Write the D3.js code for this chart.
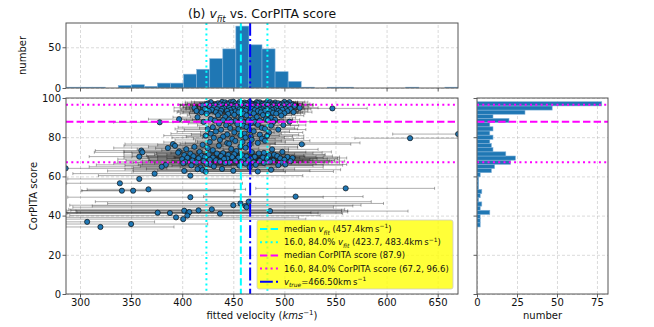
<!DOCTYPE html>
<html>
<head>
<meta charset="utf-8">
<script src="https://cdn.jsdelivr.net/npm/d3@7"></script>
<style>
body { margin: 0; background: #fff; }
svg { font-family: "DejaVu Sans", sans-serif; }
</style>
</head>
<body>
<svg id="chart" width="654" height="327"></svg>
<script>
// ---- data ----
var vTicks = [300, 350, 400, 450, 500, 550, 600, 650];
var scoreTicks = [0, 20, 40, 60, 80, 100];
var topCountTicks = [0, 50];
var sideCountTicks = [0, 25, 50, 75];

// histogram of fitted velocity, 30 bins between data min and max
var vRange = [286.3, 669.9];
var vCounts = [1,1,1,0,3,4,2,6,6,17,23,36,48,76,53,48,20,8,1,0,1,1,0,0,0,0,1,0,0,1];
// histogram of CorPITA score, 30 bins, low -> high
var scoreRange = [34.2, 98.1];
var scoreCounts = [2,2,2,8,2,3,1,2,3,1,1,1,2,9,11,21,24,18,10,9,8,10,8,10,8,20,10,30,47,78];

var vMedian = 457.4, vPct = [423.7, 483.4], vTrue = 466.5;
var sMedian = 87.9, sPct = [67.2, 96.6];

// each fit: [velocity, score, minus error, plus error]
var fits = [
  [428,97.9,25,30],[439,98.0,30,35],[442,97.8,20,28],[447,97.9,35,40],[450,98.1,22,30],[456,97.9,28,25],[461,97.7,33,38],[466,98.0,25,30],[473,97.9,30,27],[476,97.8,36,33],[483,98.0,28,30],[486,97.9,40,25],[491,97.7,30,22],[500,98.0,35,20],[505,97.9,25,18],
  [425,97.2,22,35],[435,97.3,30,30],[444,97.1,26,42],[452,97.2,35,28],[458,97.4,24,36],[463,97.2,30,30],[469,97.0,38,26],[474,97.3,27,34],[479,97.2,32,28],[488,97.1,40,25],[494,97.3,30,24],[498,97.2,36,20],[503,97.0,28,22],
  [424,96.7,28,40],[432,96.6,34,30],[437,96.8,25,38],[445,96.7,45,30],[449,96.5,30,40],[455,96.7,26,32],[460,96.8,38,28],[464,96.6,30,36],[468,96.7,34,30],[472,96.5,28,40],[478,96.8,36,26],[481,96.7,30,32],[485,96.6,42,28],[490,96.7,33,25],[496,96.5,38,22],[502,96.7,30,26],[508,96.6,35,20],
  [420,96.2,22,38],[430,96.1,32,34],[440,96.3,28,30],[448,96.2,40,36],[453,96.0,30,28],[459,96.2,35,40],[462,96.3,28,30],[467,96.1,32,34],[471,96.2,40,28],[477,96.0,30,36],[484,96.2,36,30],[489,96.3,28,26],[493,96.1,34,22],[499,96.2,40,24],[510,96.0,30,18],
  [427,95.6,26,34],[436,95.5,32,30],[443,95.7,28,40],[451,95.6,36,30],[457,95.4,30,34],[465,95.6,40,28],[470,95.7,30,32],[475,95.5,34,30],[482,95.6,38,26],[487,95.4,30,28],[495,95.6,36,24],[504,95.5,32,20],
  [412,95.0,20,40],[431,95.1,30,36],[441,94.9,34,30],[446,95.0,28,38],[454,95.2,36,32],[461,95.0,30,30],[466,94.8,40,34],[473,95.0,32,28],[480,95.1,36,30],[485,94.9,30,26],[492,95.0,40,24],[497,95.1,34,22],[515,95.0,30,18],[547,94.7,35,34],
  [422,94.4,24,36],[434,94.3,30,32],[439,94.5,36,30],[450,94.4,30,38],[456,94.2,40,30],[463,94.4,32,34],[468,94.5,28,30],[478,94.3,38,28],[483,94.4,32,26],[490,94.2,36,24],[501,94.4,30,22],[506,94.3,28,20],
  [429,94.0,30,34],[447,93.9,36,30],[459,94.0,30,36],[471,93.8,40,28],[476,94.0,30,30],[488,93.9,34,24],[498,94.0,30,22],
  [414,93.4,22,38],[426,93.3,30,34],[438,93.5,28,30],[444,93.4,36,38],[452,93.2,30,30],[458,93.4,40,34],[462,93.5,30,28],[474,93.3,34,30],[481,93.4,30,26],[486,93.2,38,28],[494,93.4,32,22],[503,93.3,30,20],
  [419,92.7,24,36],[433,92.8,32,32],[448,92.6,36,30],[455,92.7,30,36],[467,92.9,38,30],[477,92.7,30,28],[489,92.5,34,24],[496,92.7,30,22],[509,92.8,28,18],
  [424,92.0,26,34],[437,92.2,30,30],[445,91.9,38,34],[460,92.0,30,30],[470,92.1,36,28],[484,91.9,30,26],[492,92.0,34,24],[500,92.2,28,20],
  [435,91.2,30,34],[451,91.4,36,30],[463,91.1,30,32],[479,91.3,34,28],[497,91.0,30,22],
  [415,90.2,24,38],[442,90.4,34,30],[457,90.0,30,34],[473,90.3,36,28],[487,89.9,30,24],
  [397,89.2,30,45],[428,89.3,32,36],[446,89.0,36,30],[458,89.4,30,34],[469,89.1,38,30],[482,89.2,30,26],[491,88.9,34,24],
  [432,88.5,30,34],[440,88.7,36,30],[452,88.3,30,36],[465,88.6,38,30],[476,88.4,30,28],[484,88.7,34,24],
  [378,87.6,45,40],[421,87.8,30,36],[448,87.9,34,30],[460,87.6,30,34],[471,87.8,36,28],[489,87.7,30,24],[505,87.9,28,20],
  [436,86.9,30,34],[454,86.6,28,30],[467,87.1,32,28],
  [443,86.1,28,33],[460,85.8,30,30],[474,86.3,27,32],[487,85.9,33,27],[499,86.2,28,22],
  [430,85.1,34,36],[447,84.7,30,33],[463,85.2,35,30],[478,84.8,30,32],
  [425,84.2,32,38],[438,83.8,36,33],[455,84.1,30,35],[466,83.6,33,30],[481,84.3,35,32],[494,83.9,30,27],
  [433,82.9,38,36],[451,82.5,33,39],[470,83.0,36,35],[485,82.4,32,33],
  [428,81.8,39,38],[444,81.4,35,41],[461,81.9,38,36],[476,81.3,33,38],[670,81.6,64,40],
  [423,80.8,41,38],[440,80.3,36,42],[457,80.9,39,38],[467,80.4,35,41],[483,80.7,38,36],
  [431,79.7,41,39],[449,79.2,38,42],[462,79.8,42,38],[478,79.3,36,41],[623,79.5,54,60],
  [437,78.6,44,41],[452,78.1,39,45],[468,78.7,42,41],[481,78.2,38,44],
  [427,77.5,45,42],[444,77.0,41,47],[459,77.6,44,42],[474,77.1,39,100],
  [391,76.5,47,53],[420,76.1,44,50],[446,76.7,48,45],[466,76.2,45,54],[517,76.4,42,48],
  [393,75.6,50,47],[412,75.1,45,53],[436,75.7,48,50],[457,75.2,44,56],
  [386,74.5,53,51],[404,73.9,48,54],[425,74.4,51,50],[448,74.0,47,56],[462,74.6,53,51],[488,73.8,48,45],
  [360,73.2,45,60],[397,72.8,54,53],[430,73.4,50,56],[453,72.9,53,51],
  [361,72.3,47,56],[396,72.1,53,59],[417,72.5,56,54],[440,71.9,51,60],[468,72.4,54,53],[480,72.0,50,57],[498,72.5,53,48],
  [408,71.6,57,56],[426,71.2,53,60],[434,71.7,59,54],[451,71.3,54,59],[475,71.8,56,53],[490,71.1,51,50],
  [402,70.9,59,57],[419,70.6,54,62],[445,71.0,60,56],[459,70.7,56,60],[485,70.9,53,54],
  [358,70.1,49,60],[411,70.3,60,57],[422,69.9,56,63],[438,70.4,62,59],[449,69.8,57,62],[463,70.2,60,57],[471,70.0,56,60],[493,70.4,59,54],[503,69.9,54,51],
  [405,69.5,62,60],[416,69.2,57,65],[430,69.6,63,59],[444,69.1,59,63],[455,69.5,62,60],[467,69.0,57,65],[479,69.6,63,59],[496,69.2,59,56],[508,69.4,56,53],
  [400,68.8,63,62],[427,68.5,59,66],[441,68.9,65,60],[460,68.6,60,65],[483,68.9,63,59],[500,68.5,57,54],
  [410,68.1,65,63],[421,67.8,60,68],[433,68.2,66,62],[452,67.9,62,66],[465,68.3,65,63],[476,67.9,60,68],[489,68.1,63,60],[506,67.8,59,53],
  [403,67.4,66,65],[414,67.1,62,69],[437,67.5,68,63],[446,67.0,63,68],[458,67.4,66,65],[470,67.2,62,69],[486,67.5,65,60],[497,67.0,60,57],
  [401,66.7,68,66],[424,66.4,63,71],[442,66.8,69,65],[462,66.5,65,69],[480,66.9,68,63],
  [384,65.9,68,69],[409,65.6,65,72],[428,66.0,71,68],[456,65.5,66,72],[472,65.9,69,66],[494,65.7,65,63],[501,66.1,68,60],
  [380,64.9,71,68],[418,64.6,66,74],[431,65.1,72,69],[466,64.7,68,72],
  [286,64.1,10,99],[415,63.7,71,75],[420,63.3,68,79],[439,63.8,74,71],[487,63.4,69,68],
  [402,62.8,75,72],[423,62.4,71,78],[450,62.9,74,75],[474,62.5,69,74],
  [373,61.4,80,95],[408,60.4,90,110],
  [358,58.7,70,100],
  [339,56.5,52,120],
  [560,53.9,88,87],
  [341,52.7,40,110],[352,52.7,50,100],[367,53.4,60,95],
  [408,49.4,120,130],[511,49.7,90,66],
  [465,47.1,150,120],
  [450,45.3,160,125],[457,46.2,130,140],[462,44.9,150,105],
  [463,44.3,170,85],[429,43.2,140,130],
  [376,41.5,90,150],[388,41.3,100,145],[402,42.5,115,160],[406,41.5,120,150],[407,41.8,110,155],[416,42.7,125,140],[486,42.3,190,135],[437,41.0,150,120],
  [394,39.1,108,120],[405,40.0,115,130],
  [401,38.2,115,120],[307,36.8,21,66],
  [320,34.2,34,72],[350,35.7,64,75]
];

// ---- layout ----
var mainBox = {l: 66, r: 458, t: 98, b: 294},
    topBox = {l: 66, r: 458, t: 23, b: 88},
    sideBox = {l: 477, r: 608, t: 98, b: 294};

var blue = "#1f77b4";
var svg = d3.select("#chart");

var x = d3.scaleLinear().domain(vRange).range([mainBox.l, mainBox.r]);
var y = d3.scaleLinear().domain([0, 100]).range([mainBox.b, mainBox.t]);
var yTop = d3.scaleLinear().domain([0, 79.8]).range([topBox.b, topBox.t]);
var xSide = d3.scaleLinear().domain([0, 81.9]).range([sideBox.l, sideBox.r]);

var defs = svg.append("defs");
[["clipMain", mainBox], ["clipTop", topBox], ["clipSide", sideBox]].forEach(function(c) {
  defs.append("clipPath").attr("id", c[0]).append("rect")
    .attr("x", c[1].l).attr("y", c[1].t)
    .attr("width", c[1].r - c[1].l).attr("height", c[1].b - c[1].t);
});

function styleAxis(g) {
  g.select(".domain").remove();
  g.selectAll(".tick line").attr("stroke", "#333").attr("stroke-width", 0.8);
  g.selectAll(".tick text").attr("fill", "#111").attr("font-size", 10)
    .attr("font-family", "DejaVu Sans, sans-serif");
}
function styleGrid(g) {
  g.select(".domain").remove();
  g.selectAll(".tick line").attr("stroke", "#b0b0b0").attr("stroke-width", 0.8)
    .attr("stroke-dasharray", "3,2").attr("opacity", 0.6);
  g.selectAll(".tick text").remove();
}

// ---- gridlines ----
svg.append("g").attr("transform", "translate(0," + mainBox.b + ")")
  .call(d3.axisBottom(x).tickValues(vTicks).tickSize(-(mainBox.b - mainBox.t))).call(styleGrid);
svg.append("g").attr("transform", "translate(" + mainBox.l + ",0)")
  .call(d3.axisLeft(y).tickValues(scoreTicks).tickSize(-(mainBox.r - mainBox.l))).call(styleGrid);
svg.append("g").attr("transform", "translate(0," + topBox.b + ")")
  .call(d3.axisBottom(x).tickValues(vTicks).tickSize(-(topBox.b - topBox.t))).call(styleGrid);
svg.append("g").attr("transform", "translate(" + topBox.l + ",0)")
  .call(d3.axisLeft(yTop).tickValues(topCountTicks).tickSize(-(topBox.r - topBox.l))).call(styleGrid);
svg.append("g").attr("transform", "translate(0," + sideBox.b + ")")
  .call(d3.axisBottom(xSide).tickValues(sideCountTicks).tickSize(-(sideBox.b - sideBox.t))).call(styleGrid);
svg.append("g").attr("transform", "translate(" + sideBox.l + ",0)")
  .call(d3.axisLeft(y).tickValues(scoreTicks).tickSize(-(sideBox.r - sideBox.l))).call(styleGrid);

// ---- top histogram ----
var vStep = (vRange[1] - vRange[0]) / vCounts.length;
svg.append("g").attr("clip-path", "url(#clipTop)")
  .selectAll("rect").data(vCounts).join("rect")
  .attr("x", function(d, i) { return x(vRange[0] + i * vStep); })
  .attr("width", function(d, i) { return x(vRange[0] + (i + 1) * vStep) - x(vRange[0] + i * vStep); })
  .attr("y", function(d) { return yTop(d); })
  .attr("height", function(d) { return yTop(0) - yTop(d); })
  .attr("fill", blue).attr("stroke", "#7fb0d8").attr("stroke-width", 0.6);

// ---- side histogram ----
var sStep = (scoreRange[1] - scoreRange[0]) / scoreCounts.length;
svg.append("g").attr("clip-path", "url(#clipSide)")
  .selectAll("rect").data(scoreCounts).join("rect")
  .attr("x", xSide(0))
  .attr("y", function(d, i) { return y(scoreRange[0] + (i + 1) * sStep); })
  .attr("height", function(d, i) { return y(scoreRange[0] + i * sStep) - y(scoreRange[0] + (i + 1) * sStep); })
  .attr("width", function(d) { return xSide(d) - xSide(0); })
  .attr("fill", blue).attr("stroke", "#7fb0d8").attr("stroke-width", 0.6);

// ---- scatter with error bars ----
var plot = svg.append("g").attr("clip-path", "url(#clipMain)");
var eb = plot.append("g").attr("stroke", "#000").attr("stroke-opacity", 0.32).attr("stroke-width", 1);
fits.forEach(function(d) {
  var x0 = x(d[0] - d[2]), x1 = x(d[0] + d[3]), yy = y(d[1]);
  eb.append("line").attr("x1", x0).attr("x2", x1).attr("y1", yy).attr("y2", yy);
  eb.append("line").attr("x1", x0).attr("x2", x0).attr("y1", yy - 1.5).attr("y2", yy + 1.5);
  eb.append("line").attr("x1", x1).attr("x2", x1).attr("y1", yy - 1.5).attr("y2", yy + 1.5);
});
plot.append("g").selectAll("circle").data(fits).join("circle")
  .attr("cx", function(d) { return x(d[0]); })
  .attr("cy", function(d) { return y(d[1]); })
  .attr("r", 2.6)
  .attr("fill", blue).attr("stroke", "#111").attr("stroke-width", 0.7);

// ---- reference lines ----
var cyanDash = "7.4,3.2", dotted = "2,3.3", dashDot = "12.8,3.2,2,3.2";
function vLines(box, clip) {
  var g = svg.append("g").attr("clip-path", clip).attr("stroke-width", 2).attr("fill", "none");
  vPct.forEach(function(v) {
    g.append("line").attr("x1", x(v)).attr("x2", x(v)).attr("y1", box.t).attr("y2", box.b)
      .attr("stroke", "#00ffff").attr("stroke-dasharray", dotted);
  });
  g.append("line").attr("x1", x(vMedian)).attr("x2", x(vMedian)).attr("y1", box.t).attr("y2", box.b)
    .attr("stroke", "#00ffff").attr("stroke-dasharray", cyanDash);
  g.append("line").attr("x1", x(vTrue)).attr("x2", x(vTrue)).attr("y1", box.t).attr("y2", box.b)
    .attr("stroke", "#0000ff").attr("stroke-dasharray", dashDot);
}
function hLines(box, clip) {
  var g = svg.append("g").attr("clip-path", clip).attr("stroke-width", 2).attr("fill", "none");
  sPct.forEach(function(s) {
    g.append("line").attr("x1", box.l).attr("x2", box.r).attr("y1", y(s)).attr("y2", y(s))
      .attr("stroke", "#ff00ff").attr("stroke-dasharray", dotted);
  });
  g.append("line").attr("x1", box.l).attr("x2", box.r).attr("y1", y(sMedian)).attr("y2", y(sMedian))
    .attr("stroke", "#ff00ff").attr("stroke-dasharray", cyanDash);
}
vLines(topBox, "url(#clipTop)");
vLines(mainBox, "url(#clipMain)");
hLines(mainBox, "url(#clipMain)");
hLines(sideBox, "url(#clipSide)");

// ---- axes ----
svg.append("g").attr("transform", "translate(0," + mainBox.b + ")")
  .call(d3.axisBottom(x).tickValues(vTicks).tickSize(3.5).tickPadding(1.5)).call(styleAxis);
svg.append("g").attr("transform", "translate(" + mainBox.l + ",0)")
  .call(d3.axisLeft(y).tickValues(scoreTicks).tickSize(3.5).tickPadding(1.5)).call(styleAxis);
svg.append("g").attr("transform", "translate(0," + topBox.b + ")")
  .call(d3.axisBottom(x).tickValues(vTicks).tickSize(3.5).tickFormat("")).call(styleAxis);
svg.append("g").attr("transform", "translate(" + topBox.l + ",0)")
  .call(d3.axisLeft(yTop).tickValues(topCountTicks).tickSize(3.5).tickPadding(1.5)).call(styleAxis);
svg.append("g").attr("transform", "translate(0," + sideBox.b + ")")
  .call(d3.axisBottom(xSide).tickValues(sideCountTicks).tickSize(3.5).tickPadding(1.5)).call(styleAxis);
svg.append("g").attr("transform", "translate(" + sideBox.l + ",0)")
  .call(d3.axisLeft(y).tickValues(scoreTicks).tickSize(3.5).tickFormat("")).call(styleAxis);

[mainBox, topBox, sideBox].forEach(function(b) {
  svg.append("rect").attr("x", b.l).attr("y", b.t).attr("width", b.r - b.l).attr("height", b.b - b.t)
    .attr("fill", "none").attr("stroke", "#555").attr("stroke-width", 1);
});

// ---- text helpers ----
function rich(sel, segs, size) {
  var shift = 0;
  segs.forEach(function(s) {
    var ts = sel.append("tspan").text(s.t);
    var target = s.sub ? size * 0.3 : (s.sup ? -size * 0.42 : 0);
    if (target - shift !== 0) ts.attr("dy", target - shift);
    shift = target;
    if (s.sub || s.sup) ts.attr("font-size", size * 0.7);
    if (s.i) ts.attr("font-style", "italic");
  });
}

// title
var title = svg.append("text").attr("x", (topBox.l + topBox.r) / 2).attr("y", 18)
  .attr("text-anchor", "middle").attr("font-size", 12.4).attr("fill", "#111");
rich(title, [{t: "(b) "}, {t: "v", i: true}, {t: "fit", i: true, sub: true}, {t: " vs. CorPITA score"}], 12.4);

// axis labels
svg.append("text").attr("transform", "translate(26," + ((topBox.t + topBox.b) / 2) + ") rotate(-90)")
  .attr("text-anchor", "middle").attr("font-size", 10).attr("fill", "#111").text("number");
svg.append("text").attr("transform", "translate(37," + ((mainBox.t + mainBox.b) / 2) + ") rotate(-90)")
  .attr("text-anchor", "middle").attr("font-size", 10).attr("fill", "#111").text("CorPITA score");
var xl = svg.append("text").attr("x", (mainBox.l + mainBox.r) / 2).attr("y", 319)
  .attr("text-anchor", "middle").attr("font-size", 10).attr("fill", "#111");
rich(xl, [{t: "fitted velocity ("}, {t: "kms", i: true}, {t: "\u22121", sup: true}, {t: ")"}], 10);
svg.append("text").attr("x", (sideBox.l + sideBox.r) / 2).attr("y", 319)
  .attr("text-anchor", "middle").attr("font-size", 10).attr("fill", "#111").text("number");

// ---- legend ----
var legend = svg.append("g");
legend.append("rect").attr("x", 257).attr("y", 220).attr("width", 196).attr("height", 69)
  .attr("rx", 2).attr("fill", "#ffff00").attr("fill-opacity", 0.78)
  .attr("stroke", "#cccccc").attr("stroke-width", 0.8);

var legendItems = [
  {color: "#00ffff", dash: cyanDash, segs: [{t: "median "}, {t: "v", i: true}, {t: "fit", i: true, sub: true}, {t: " (457.4km\u2009s"}, {t: "\u22121", sup: true}, {t: ")"}]},
  {color: "#00ffff", dash: dotted, segs: [{t: "16.0, 84.0% "}, {t: "v", i: true}, {t: "fit", i: true, sub: true}, {t: " (423.7, 483.4km\u2009s"}, {t: "\u22121", sup: true}, {t: ")"}]},
  {color: "#ff00ff", dash: cyanDash, segs: [{t: "median CorPITA score (87.9)"}]},
  {color: "#ff00ff", dash: dotted, segs: [{t: "16.0, 84.0% CorPITA score (67.2, 96.6)"}]},
  {color: "#0000ff", dash: dashDot, segs: [{t: "v", i: true}, {t: "true", i: true, sub: true}, {t: "=466.50km\u2009s"}, {t: "\u22121", sup: true}]}
];
legendItems.forEach(function(it, i) {
  var cy = 229 + i * 13.2;
  legend.append("line").attr("x1", 260).attr("x2", 278).attr("y1", cy).attr("y2", cy)
    .attr("stroke", it.color).attr("stroke-width", 2).attr("stroke-dasharray", it.dash);
  var t = legend.append("text").attr("x", 284).attr("y", cy + 3).attr("font-size", 8.5).attr("fill", "#111");
  rich(t, it.segs, 8.5);
});
</script>
</body>
</html>
